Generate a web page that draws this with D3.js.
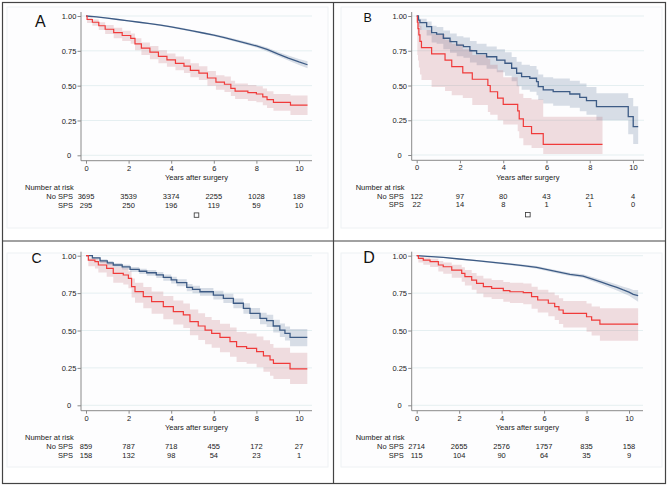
<!DOCTYPE html>
<html>
<head>
<meta charset="utf-8">
<script src="https://cdn.jsdelivr.net/npm/d3@7"></script>
<style>
  body { margin: 0; background: #fff; }
  svg { display: block; font-family: "Liberation Sans", Arial, sans-serif; }
</style>
</head>
<body>
<div id="chart"></div>
<script>
(function () {

  // Kaplan-Meier rows: [years, survival, lower CI, upper CI]
  const aNoSps = [[0,1,1,1],[0.5,0.993,0.99,0.996],[1,0.985,0.981,0.989],[1.5,0.975,0.971,0.979],[2,0.965,0.96,0.97],[2.5,0.955,0.95,0.96],[3,0.945,0.94,0.95],[3.5,0.934,0.928,0.94],[4,0.922,0.916,0.928],[4.5,0.908,0.901,0.915],[5,0.893,0.886,0.9],[5.5,0.878,0.87,0.886],[6,0.862,0.854,0.87],[6.5,0.845,0.836,0.854],[7,0.825,0.815,0.835],[7.5,0.806,0.795,0.817],[8,0.785,0.773,0.797],[8.5,0.76,0.746,0.774],[9,0.728,0.712,0.744],[9.5,0.698,0.68,0.716],[10,0.67,0.648,0.692],[10.4,0.65,0.625,0.675]]
  const aSps = [[0,1,1,1],[0.05,0.975,0.95,0.99],[0.3,0.955,0.93,0.975],[0.6,0.93,0.9,0.955],[0.9,0.905,0.87,0.935],[1.3,0.88,0.84,0.915],[1.7,0.86,0.82,0.895],[2.1,0.84,0.8,0.875],[2.3,0.8,0.755,0.84],[2.6,0.77,0.72,0.81],[3,0.74,0.69,0.785],[3.4,0.71,0.66,0.755],[3.8,0.685,0.635,0.73],[4.2,0.66,0.61,0.71],[4.6,0.64,0.59,0.69],[4.9,0.61,0.56,0.66],[5.3,0.59,0.54,0.64],[5.7,0.555,0.5,0.605],[6.1,0.525,0.47,0.575],[6.5,0.51,0.455,0.565],[6.8,0.48,0.425,0.535],[7,0.46,0.405,0.515],[7.6,0.45,0.39,0.505],[8,0.44,0.38,0.495],[8.3,0.42,0.36,0.48],[8.5,0.4,0.34,0.46],[8.8,0.38,0.32,0.44],[9.6,0.36,0.29,0.43],[10.4,0.36,0.29,0.43]]

  const bNoSps = [[0,1,1,1],[0.08,0.97,0.92,0.99],[0.15,0.952,0.9,0.98],[0.46,0.923,0.86,0.96],[0.69,0.88,0.81,0.93],[0.92,0.87,0.8,0.92],[1.23,0.84,0.76,0.895],[1.54,0.815,0.735,0.875],[1.85,0.79,0.71,0.855],[2.16,0.78,0.7,0.845],[2.46,0.75,0.665,0.82],[2.77,0.73,0.645,0.8],[3.23,0.707,0.62,0.78],[3.7,0.683,0.595,0.76],[4.08,0.66,0.57,0.74],[4.39,0.624,0.53,0.705],[4.62,0.588,0.495,0.67],[4.85,0.564,0.47,0.65],[5.23,0.552,0.455,0.64],[5.54,0.528,0.43,0.615],[5.62,0.492,0.395,0.58],[5.85,0.468,0.37,0.56],[6.31,0.456,0.355,0.55],[7.08,0.439,0.34,0.535],[7.54,0.415,0.315,0.515],[7.85,0.391,0.29,0.49],[8.31,0.348,0.25,0.445],[9.78,0.276,0.15,0.41],[10.01,0.204,0.08,0.35],[10.24,0.204,0.08,0.35]]
  const bSps = [[0,1,1,1],[0.03,0.955,0.72,0.99],[0.06,0.909,0.68,0.975],[0.1,0.864,0.63,0.955],[0.15,0.818,0.58,0.93],[0.22,0.773,0.54,0.9],[0.69,0.727,0.49,0.87],[1.31,0.682,0.46,0.83],[1.62,0.636,0.43,0.8],[2.13,0.591,0.41,0.76],[2.57,0.545,0.36,0.72],[3.29,0.5,0.31,0.69],[3.4,0.455,0.29,0.65],[3.74,0.409,0.25,0.61],[4,0.364,0.22,0.56],[4.67,0.318,0.17,0.5],[4.74,0.26,0.12,0.44],[4.93,0.205,0.07,0.41],[5.31,0.154,0.05,0.4],[5.85,0.077,0.007,0.276],[8.59,0.077,0.007,0.276]]

  const cNoSps = [[0,1,1,1],[0.3,0.985,0.975,0.992],[0.66,0.966,0.952,0.977],[1,0.952,0.937,0.965],[1.28,0.938,0.922,0.952],[1.7,0.925,0.908,0.94],[2.07,0.909,0.891,0.925],[2.5,0.896,0.877,0.913],[2.85,0.886,0.866,0.904],[3.3,0.872,0.851,0.891],[3.63,0.855,0.833,0.875],[4,0.838,0.815,0.859],[4.26,0.82,0.796,0.842],[4.73,0.788,0.763,0.811],[5,0.775,0.749,0.799],[5.35,0.759,0.732,0.784],[5.98,0.737,0.707,0.765],[6.45,0.715,0.683,0.745],[6.92,0.682,0.648,0.714],[7.39,0.648,0.612,0.682],[7.7,0.615,0.577,0.651],[8.17,0.581,0.541,0.619],[8.48,0.566,0.524,0.606],[8.79,0.53,0.486,0.572],[9.1,0.503,0.457,0.547],[9.34,0.481,0.433,0.527],[9.58,0.454,0.395,0.51],[10.39,0.454,0.395,0.51]]
  const cSps = [[0,1,1,1],[0.11,0.971,0.93,0.988],[0.42,0.96,0.915,0.982],[0.58,0.938,0.888,0.966],[0.97,0.915,0.86,0.949],[1.28,0.882,0.82,0.923],[1.75,0.871,0.808,0.914],[1.99,0.849,0.783,0.896],[2.14,0.793,0.72,0.848],[2.3,0.76,0.685,0.82],[2.69,0.726,0.648,0.79],[3.08,0.693,0.612,0.76],[3.63,0.659,0.575,0.73],[4.1,0.626,0.54,0.7],[4.57,0.604,0.516,0.68],[4.88,0.559,0.468,0.64],[5.27,0.53,0.437,0.615],[5.59,0.503,0.408,0.59],[5.9,0.481,0.384,0.57],[6.29,0.454,0.355,0.545],[6.76,0.425,0.325,0.52],[7.07,0.392,0.29,0.49],[7.54,0.381,0.278,0.48],[8.01,0.359,0.254,0.46],[8.33,0.33,0.224,0.435],[8.64,0.303,0.197,0.41],[8.8,0.28,0.175,0.385],[9.58,0.243,0.143,0.352],[10.39,0.243,0.143,0.352]]

  const dNoSps = [[0,1,1,1],[0.5,0.996,0.994,0.998],[1.25,0.989,0.986,0.992],[2,0.978,0.974,0.982],[2.82,0.967,0.962,0.972],[3.6,0.956,0.95,0.962],[4.39,0.944,0.937,0.951],[5,0.934,0.926,0.942],[5.65,0.922,0.913,0.931],[6.43,0.898,0.888,0.908],[7.22,0.875,0.864,0.886],[7.84,0.864,0.852,0.876],[8.31,0.842,0.828,0.856],[8.7,0.823,0.807,0.839],[9.1,0.804,0.786,0.822],[9.43,0.788,0.768,0.808],[9.73,0.771,0.749,0.793],[10,0.757,0.732,0.782],[10.2,0.742,0.714,0.77],[10.43,0.733,0.693,0.771]]
  const dSps = [[0,1,1,1],[0.08,0.982,0.955,0.994],[0.31,0.971,0.94,0.988],[0.63,0.96,0.925,0.98],[1.02,0.938,0.895,0.965],[1.25,0.926,0.88,0.955],[1.65,0.904,0.853,0.94],[2.12,0.882,0.826,0.922],[2.27,0.86,0.8,0.905],[2.59,0.837,0.773,0.885],[2.82,0.815,0.748,0.866],[3.14,0.793,0.722,0.847],[3.53,0.782,0.71,0.838],[4.08,0.766,0.692,0.825],[4.39,0.759,0.684,0.819],[5.02,0.753,0.676,0.814],[5.41,0.726,0.645,0.792],[5.7,0.704,0.62,0.773],[6.2,0.682,0.595,0.754],[6.5,0.66,0.57,0.735],[6.7,0.637,0.544,0.716],[6.9,0.615,0.52,0.697],[8,0.592,0.492,0.68],[8.24,0.57,0.466,0.66],[8.63,0.543,0.432,0.648],[10.43,0.543,0.432,0.648]]

  // Number at risk, at years 0, 2, 4, 6, 8, 10
  const riskYears = [0, 2, 4, 6, 8, 10]
  const aRiskNo = [3695, 3539, 3374, 2255, 1028, 189]
  const aRiskSps = [295, 250, 196, 119, 59, 10]
  const bRiskNo = [122, 97, 80, 43, 21, 4]
  const bRiskSps = [22, 14, 8, 1, 1, 0]
  const cRiskNo = [859, 787, 718, 455, 172, 27]
  const cRiskSps = [158, 132, 98, 54, 23, 1]
  const dRiskNo = [2714, 2655, 2576, 1757, 835, 158]
  const dRiskSps = [115, 104, 90, 64, 35, 9]

  const yTicks = [0, 0.25, 0.5, 0.75, 1]
  const xTicks = [0, 2, 4, 6, 8, 10]
  const rowLabels = ["No SPS", "SPS"]

  const blue = "#3d5b85"
  const red = "#f03a3a"
  const textColor = "#222"
  const axisColor = "#8a8a8a"

  // panel layout (pixels inside each panel); smooth = many tiny steps, drawn as a line
  const panels = [
    { letter: "A", ox: 0, oy: 0, axisX: 81, x0: 86, x10: 299, xEnd: 312, y1: 16, y0: 155.3, axisY: 160.7,
      no: aNoSps, sps: aSps, riskNo: aRiskNo, riskSps: aRiskSps, box: true, smooth: true, lx: 35, ly: 27, ls: 16, bgH: 221 },
    { letter: "B", ox: 334, oy: 0, axisX: 77.7, x0: 82.7, x10: 299, xEnd: 310, y1: 16, y0: 155, axisY: 160.3,
      no: bNoSps, sps: bSps, riskNo: bRiskNo, riskSps: bRiskSps, box: true, smooth: false, lx: 29.5, ly: 21.5, ls: 12.5, bgH: 221 },
    { letter: "C", ox: 0, oy: 245, axisX: 81, x0: 86, x10: 299, xEnd: 312, y1: 10.7, y0: 160.3, axisY: 165.7,
      no: cNoSps, sps: cSps, riskNo: cRiskNo, riskSps: cRiskSps, box: false, smooth: false, lx: 31.5, ly: 17.5, ls: 14, bgH: 214 },
    { letter: "D", ox: 334, oy: 245, axisX: 77.7, x0: 82.7, x10: 295, xEnd: 309, y1: 10.7, y0: 160.3, axisY: 165.7,
      no: dNoSps, sps: dSps, riskNo: dRiskNo, riskSps: dRiskSps, box: false, smooth: true, lx: 29.3, ly: 18.3, ls: 16, bgH: 214 }
  ]

  const svg = d3.select("#chart").append("svg")
      .attr("width", 669)
      .attr("height", 490)

  svg.append("rect").attr("width", 669).attr("height", 490).attr("fill", "#fff")

  panels.forEach(p => {
    const g = svg.append("g").attr("transform", "translate(" + p.ox + "," + p.oy + ")")

    const x = d3.scaleLinear().domain([0, 10]).range([p.x0, p.x10])
    const y = d3.scaleLinear().domain([0, 1]).range([p.y0, p.y1])

    // faint plot-region background
    g.append("rect")
      .attr("x", 7).attr("y", p.oy ? 8 : 7)
      .attr("width", 321).attr("height", p.bgH)
      .attr("fill", "#fdfdfe")
      .attr("stroke", "#eef1f4")

    // grid
    g.selectAll(".grid")
      .data(yTicks)
      .join("line")
      .attr("x1", p.axisX).attr("x2", p.xEnd)
      .attr("y1", d => y(d)).attr("y2", d => y(d))
      .attr("stroke", "#e5eff1")
      .attr("stroke-width", 1)

    const area = curve => d3.area()
      .curve(curve)
      .x(d => x(d[0]))
      .y0(d => y(d[2]))
      .y1(d => y(d[3]))
    const line = curve => d3.line()
      .curve(curve)
      .x(d => x(d[0]))
      .y(d => y(d[1]))
    const noCurve = p.smooth ? d3.curveLinear : d3.curveStepAfter

    // confidence bands
    g.append("path").datum(p.no).attr("d", area(noCurve))
      .attr("fill", "#3f5f87").attr("fill-opacity", 0.2)
    g.append("path").datum(p.sps).attr("d", area(d3.curveStepAfter))
      .attr("fill", "#b04a55").attr("fill-opacity", 0.18)

    // survival curves
    g.append("path").datum(p.no).attr("d", line(noCurve))
      .attr("fill", "none").attr("stroke", blue).attr("stroke-width", 1.3)
    g.append("path").datum(p.sps).attr("d", line(d3.curveStepAfter))
      .attr("fill", "none").attr("stroke", red).attr("stroke-width", 1.2)

    // y axis
    g.append("line")
      .attr("x1", p.axisX).attr("x2", p.axisX)
      .attr("y1", p.y1 - 4).attr("y2", p.axisY)
      .attr("stroke", axisColor)
    const yAxis = g.append("g")
      .attr("transform", "translate(" + p.axisX + ",0)")
      .call(d3.axisLeft(y).tickValues(yTicks).tickSize(3.5)
        .tickFormat(d => d === 0 ? "0" : d3.format(".2f")(d)))
    yAxis.select(".domain").remove()
    yAxis.selectAll("line").attr("stroke", axisColor)
    yAxis.selectAll("text")
      .attr("x", -12).attr("dy", "0.35em")
      .attr("text-anchor", "middle")
      .attr("fill", textColor)
      .style("font-size", "7.5px")
      .style("font-family", "'Liberation Sans', Arial, sans-serif")

    // x axis
    g.append("line")
      .attr("x1", p.axisX).attr("x2", p.xEnd)
      .attr("y1", p.axisY).attr("y2", p.axisY)
      .attr("stroke", axisColor)
    const xAxis = g.append("g")
      .attr("transform", "translate(0," + p.axisY + ")")
      .call(d3.axisBottom(x).tickValues(xTicks).tickSize(3).tickFormat(d3.format("d")))
    xAxis.select(".domain").remove()
    xAxis.selectAll("line").attr("stroke", axisColor)
    xAxis.selectAll("text")
      .attr("y", 10).attr("dy", null)
      .attr("fill", textColor)
      .style("font-size", "7.5px")
      .style("font-family", "'Liberation Sans', Arial, sans-serif")

    const mid = (p.axisX + p.xEnd) / 2
    g.append("text")
      .attr("x", mid).attr("y", p.axisY + 19.5)
      .attr("text-anchor", "middle")
      .attr("fill", textColor)
      .style("font-size", "7.5px")
      .text("Years after surgery")

    // number at risk table
    g.append("text")
      .attr("x", p.axisX - 56).attr("y", p.axisY + 29.5)
      .attr("fill", textColor)
      .style("font-size", "7.5px")
      .text("Number at risk")

    const rows = [p.riskNo, p.riskSps]
    rows.forEach((vals, i) => {
      const ry = p.axisY + 38.5 + i * 8.5
      g.append("text")
        .attr("x", p.axisX - 8).attr("y", ry)
        .attr("text-anchor", "end")
        .attr("fill", textColor)
        .style("font-size", "7.5px")
        .text(rowLabels[i])
      g.selectAll(".risk" + i)
        .data(vals)
        .join("text")
        .attr("x", (d, j) => x(riskYears[j]))
        .attr("y", ry)
        .attr("text-anchor", "middle")
        .attr("fill", textColor)
        .style("font-size", "7.5px")
        .text(d => d)
    })

    // empty legend key
    if (p.box) {
      g.append("rect")
        .attr("x", mid - 2.3).attr("y", p.axisY + 52.2)
        .attr("width", 4.6).attr("height", 4.4)
        .attr("fill", "none")
        .attr("stroke", "#333")
        .attr("stroke-width", 0.8)
    }

    // panel letter
    g.append("text")
      .attr("x", p.lx).attr("y", p.ly)
      .attr("fill", "#111")
      .style("font-size", p.ls + "px")
      .text(p.letter)
  })

  // figure frame
  svg.append("rect")
    .attr("x", 2.5).attr("y", 2.5)
    .attr("width", 663).attr("height", 481)
    .attr("fill", "none")
    .attr("stroke", "#444")
    .attr("stroke-width", 1.2)
  svg.append("line")
    .attr("x1", 333.5).attr("x2", 333.5)
    .attr("y1", 2.5).attr("y2", 483.5)
    .attr("stroke", "#444").attr("stroke-width", 1.2)
  svg.append("line")
    .attr("x1", 2.5).attr("x2", 665.5)
    .attr("y1", 241).attr("y2", 241)
    .attr("stroke", "#444").attr("stroke-width", 1.2)

})();
</script>
</body>
</html>
